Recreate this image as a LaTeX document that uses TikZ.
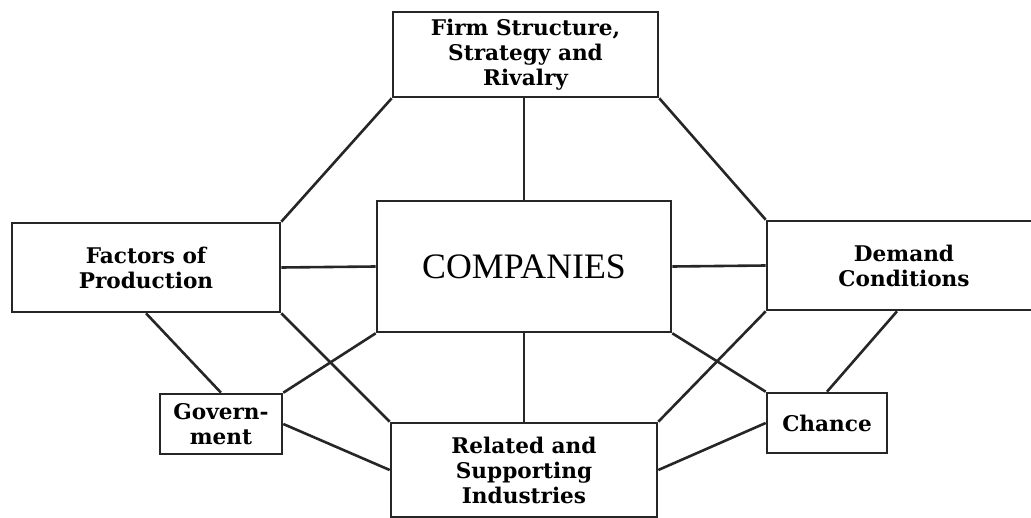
\documentclass[tikz,border=0pt]{standalone}
\usepackage{fontspec}
\setmainfont{DejaVu Serif}
\newfontfamily\compfont{Liberation Serif}

\begin{document}
\begin{tikzpicture}[x=0.5pt, y=-0.5pt,
    factor/.style={draw=black!85, line width=1.3pt, rectangle, inner sep=0pt,
      align=center, font=\fontsize{10.8}{12.5}\selectfont\bfseries},
    link/.style={draw=black!85, line width=1.3pt}]
    \useasboundingbox (0,0) rectangle (1031,518);

    \node[factor, minimum width=132.5pt, minimum height=42.5pt] (firm) at (525.5, 54.5)
      {Firm Structure,\\Strategy and\\Rivalry};
    \node[factor, minimum width=134pt, minimum height=44.5pt] (fac) at (146, 267.5)
      {Factors of\\Production};
    \node[factor, minimum width=147pt, minimum height=65.5pt,
      font=\compfont\fontsize{17.9}{20}\selectfont] (comp) at (524, 266.5) {COMPANIES};
    \node[factor, minimum width=137pt, minimum height=44.5pt] (dem) at (904, 265.5)
      {Demand\\Conditions};
    \node[factor, minimum width=61pt, minimum height=30pt] (gov) at (221, 424)
      {Govern-\\ment};
    \node[factor, minimum width=133pt, minimum height=47pt] (rel) at (524, 470)
      {Related and\\Supporting\\Industries};
    \node[factor, minimum width=60pt, minimum height=30pt] (ch) at (827, 423)
      {Chance};

    \draw[link] (firm.south west) -- (fac.north east);
    \draw[link] (comp.north |- firm.south) -- (comp.north);
    \draw[link] (firm.south east) -- (dem.north west);
    \draw[link] (fac.east) -- (comp.west);
    \draw[link] (comp.east) -- (dem.west);
    \draw[link] (fac.south east) -- (rel.north west);
    \draw[link] (dem.south west) -- (rel.north east);
    \draw[link] (comp.south) -- (rel.north);
    \draw[link] (comp.south west) -- (gov.north east);
    \draw[link] (comp.south east) -- (ch.north west);
    \draw[link] (fac.south) -- (gov.north);
    \draw[link] ([xshift=-3.5pt]dem.south) -- (ch.north);
    \draw[link] (gov.east) -- (rel.west);
    \draw[link] (ch.west) -- (rel.east);
  \end{tikzpicture}
\end{document}
